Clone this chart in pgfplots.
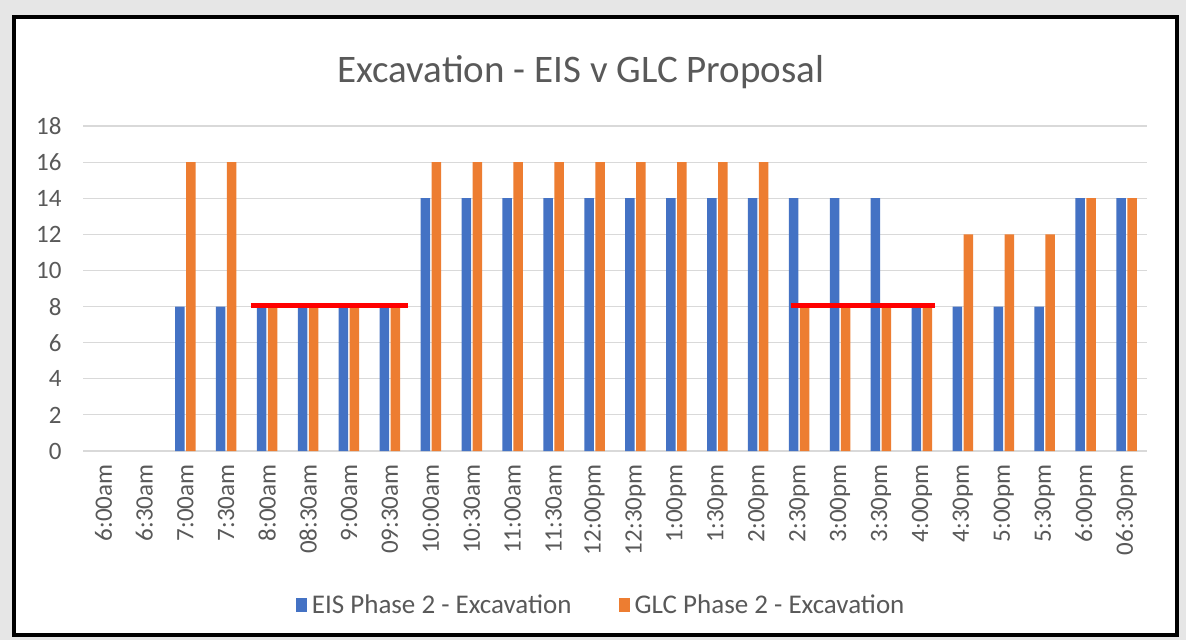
\documentclass[border=0pt]{standalone}
\usepackage{pgfplots}
\pgfplotsset{compat=1.18}
\usepackage{fontspec}
\setmainfont{Carlito}
\definecolor{eis}{HTML}{4472C4}
\definecolor{glc}{HTML}{ED7D31}
\definecolor{txt}{HTML}{595959}
\definecolor{gridc}{HTML}{D9D9D9}
\definecolor{bgc}{HTML}{E6E6E6}
\begin{document}
\begin{tikzpicture}[x=1pt,y=1pt]
\fill[bgc] (0,0) rectangle (1186,640);
\fill[white] (13,5) rectangle (1177,623);
\draw[black, line width=4pt] (13.5,5) rectangle (1177,623);
\node[font=\fontsize{39}{41}\selectfont, text=txt] at (581,568) {Excavation - EIS v GLC Proposal};
\begin{axis}[
  at={(83pt,189pt)}, anchor=south west,
  scale only axis, width=1064pt, height=325pt,
  xmin=-0.5, xmax=25.5, ymin=0, ymax=18,
  ytick={0,2,...,18},
  xtick={0,...,25},
  xticklabels={6:00am,6:30am,7:00am,7:30am,8:00am,08:30am,9:00am,09:30am,10:00am,10:30am,11:00am,11:30am,12:00pm,12:30pm,1:00pm,1:30pm,2:00pm,2:30pm,3:00pm,3:30pm,4:00pm,4:30pm,5:00pm,5:30pm,6:00pm,06:30pm},
  /pgf/number format/assume math mode=true,
  ymajorgrids, grid style={gridc, line width=1.2pt},
  axis line style={draw=none},
  major tick length=0pt,
  tick label style={text=txt, font=\fontsize{25}{27}\selectfont},
  xticklabel style={rotate=90, anchor=east},
  xticklabel shift=10pt,
  yticklabel shift=18pt,
  legend style={at={(0.487,-0.474)}, anchor=center, draw=none, fill=none,
    legend columns=2, font=\fontsize{27}{29}\selectfont, text=txt,
    /tikz/every odd column/.append style={column sep=3pt},
    /tikz/every even column/.append style={column sep=45pt}},
  legend image code/.code={\fill[#1,draw=none] (0pt,-7pt) rectangle (11pt,7pt);},
]
\addplot[ybar, bar width=9.5pt, bar shift=-5.5pt, fill=eis, draw=none] coordinates {
(2,8)(3,8)(4,8)(5,8)(6,8)(7,8)(8,14)(9,14)(10,14)(11,14)(12,14)(13,14)(14,14)(15,14)(16,14)(17,14)(18,14)(19,14)(20,8)(21,8)(22,8)(23,8)(24,14)(25,14)};
\addplot[ybar, bar width=9.5pt, bar shift=5.5pt, fill=glc, draw=none] coordinates {
(2,16)(3,16)(4,8)(5,8)(6,8)(7,8)(8,16)(9,16)(10,16)(11,16)(12,16)(13,16)(14,16)(15,16)(16,16)(17,8)(18,8)(19,8)(20,8)(21,12)(22,12)(23,12)(24,14)(25,14)};
\addplot[red, line width=5.5pt, forget plot] coordinates {(3.6,8.05)(7.43,8.05)};
\addplot[red, line width=5.5pt, forget plot] coordinates {(16.79,8.05)(20.33,8.05)};
\legend{EIS Phase 2 - Excavation, GLC Phase 2 - Excavation}
\end{axis}
\end{tikzpicture}
\end{document}
